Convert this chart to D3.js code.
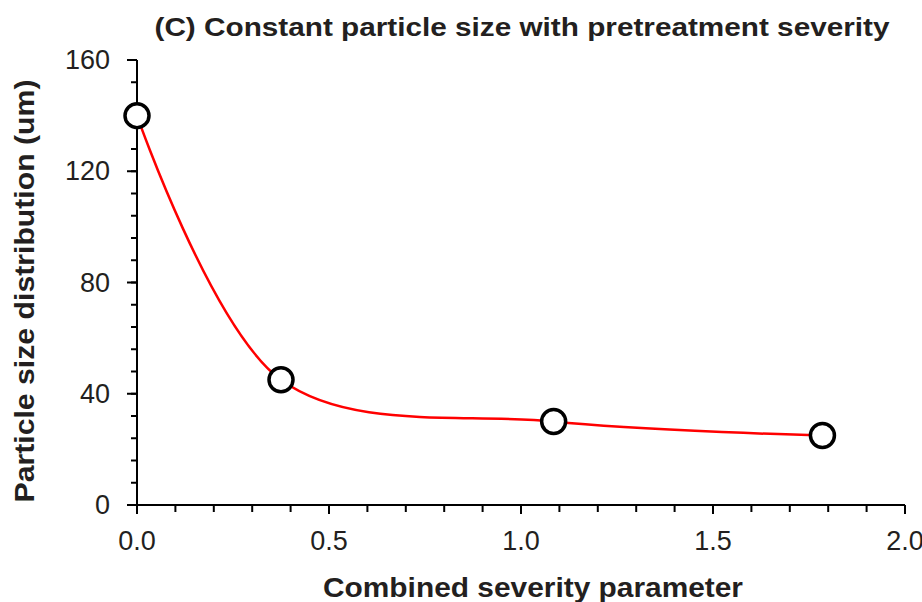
<!DOCTYPE html>
<html>
<head>
<meta charset="utf-8">
<script src="https://cdn.jsdelivr.net/npm/d3@7"></script>
<style>
  body { margin: 0; background: #fff; }
  text { font-family: "Liberation Sans", Arial, sans-serif; fill: #231f20; }
</style>
</head>
<body>
<div id="chart"></div>
<script>
//-- DATA --\\
var severity = [0.0, 0.375, 1.085, 1.785];
var particleSize = [140, 45, 30, 25];
var xTicks = [0, 0.5, 1.0, 1.5, 2.0];
var yTicks = [0, 40, 80, 120, 160];

//-- LAYOUT --\\
var width = 922;
var height = 602;
var plotLeft = 137, plotRight = 905, plotTop = 60, plotBottom = 505;

var svg = d3.select("#chart").append("svg")
    .attr("width", width)
    .attr("height", height);

var x = d3.scaleLinear().domain([0, 2]).range([plotLeft, plotRight]);
var y = d3.scaleLinear().domain([0, 160]).range([plotBottom, plotTop]);

// minor ticks (0.1 on x, 8 on y)
var xMinor = d3.range(0, 2.0001, 0.1);
var yMinor = d3.range(0, 160.001, 8);

var axisG = svg.append("g").attr("stroke", "#000").attr("stroke-width", 2);

axisG.selectAll(".xm").data(xMinor).enter().append("line")
    .attr("x1", d => x(d)).attr("x2", d => x(d))
    .attr("y1", plotBottom).attr("y2", plotBottom + 7);
axisG.selectAll(".xM").data(xTicks).enter().append("line")
    .attr("x1", d => x(d)).attr("x2", d => x(d))
    .attr("y1", plotBottom).attr("y2", plotBottom + 9);
axisG.selectAll(".ym").data(yMinor).enter().append("line")
    .attr("x1", plotLeft - 6).attr("x2", plotLeft)
    .attr("y1", d => y(d)).attr("y2", d => y(d));
axisG.selectAll(".yM").data(yTicks).enter().append("line")
    .attr("x1", plotLeft - 10).attr("x2", plotLeft)
    .attr("y1", d => y(d)).attr("y2", d => y(d));

axisG.append("line").attr("x1", plotLeft).attr("x2", plotRight).attr("y1", plotBottom).attr("y2", plotBottom);
axisG.append("line").attr("x1", plotLeft).attr("x2", plotLeft).attr("y1", plotBottom).attr("y2", plotTop);

// tick labels
svg.selectAll(".xl").data(xTicks).enter().append("text")
    .attr("x", d => x(d)).attr("y", plotBottom + 45)
    .attr("text-anchor", "middle")
    .style("font-size", "27px")
    .text(d => d.toFixed(1));
svg.selectAll(".yl").data(yTicks).enter().append("text")
    .attr("x", plotLeft - 27).attr("y", d => y(d) + 9)
    .attr("text-anchor", "end")
    .style("font-size", "27px")
    .text(d => d);

// titles (stretched a little to the reference widths)
svg.append("text")
    .attr("x", 522).attr("y", 36)
    .attr("text-anchor", "middle")
    .attr("textLength", 735).attr("lengthAdjust", "spacingAndGlyphs")
    .style("font-size", "26px").style("font-weight", "bold")
    .text("(C) Constant particle size with pretreatment severity");
svg.append("text")
    .attr("x", 533).attr("y", 597)
    .attr("text-anchor", "middle")
    .attr("textLength", 420).attr("lengthAdjust", "spacingAndGlyphs")
    .style("font-size", "27px").style("font-weight", "bold")
    .text("Combined severity parameter");
svg.append("text")
    .attr("transform", "translate(34,291) rotate(-90)")
    .attr("text-anchor", "middle")
    .attr("textLength", 423).attr("lengthAdjust", "spacingAndGlyphs")
    .style("font-size", "27px").style("font-weight", "bold")
    .text("Particle size distribution (um)");

// smoothed line
var pts = severity.map((s, i) => [s, particleSize[i]]);
var line = d3.line()
    .x(d => x(d[0])).y(d => y(d[1]))
    .curve(d3.curveCardinal.tension(0));

svg.append("path")
    .datum(pts)
    .attr("d", line)
    .attr("fill", "none")
    .attr("stroke", "#ff0000")
    .attr("stroke-width", 2.5);

svg.selectAll(".pt").data(pts).enter().append("circle")
    .attr("cx", d => x(d[0])).attr("cy", d => y(d[1]))
    .attr("r", 12)
    .attr("fill", "#fff")
    .attr("stroke", "#000")
    .attr("stroke-width", 3.5);
</script>
</body>
</html>
